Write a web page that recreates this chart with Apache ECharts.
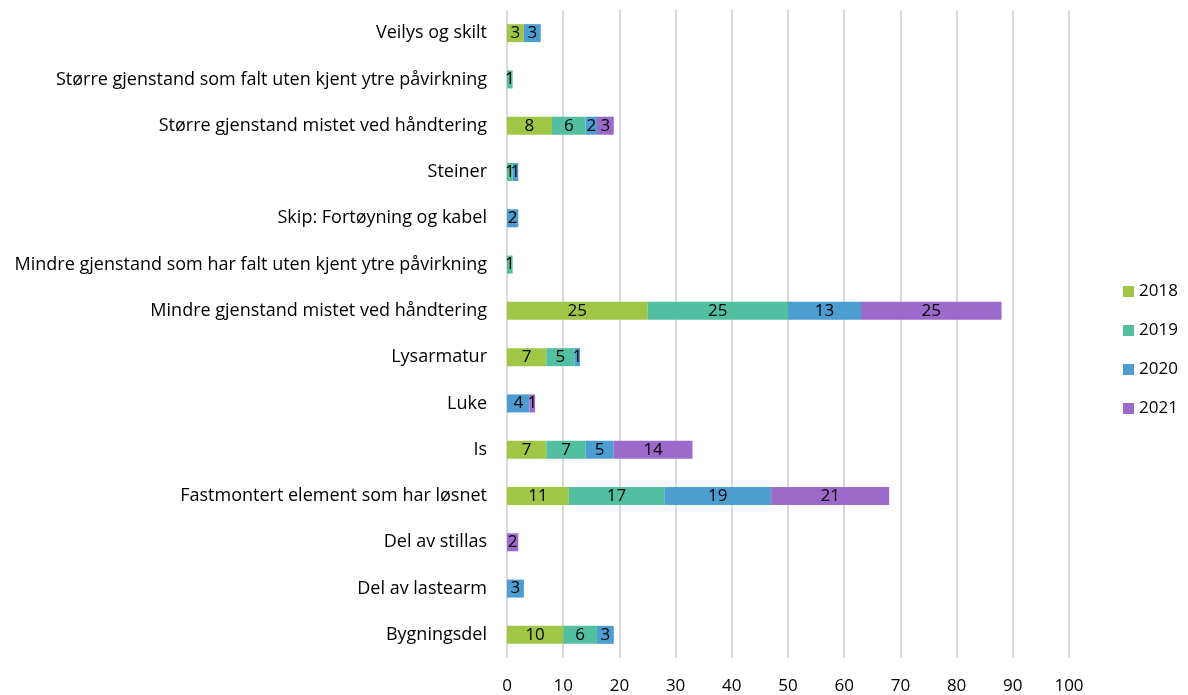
<!DOCTYPE html>
<html>
<head>
<meta charset="utf-8">
<script src="https://cdn.jsdelivr.net/npm/echarts@6/dist/echarts.min.js"></script>
<style>
  html, body { margin: 0; padding: 0; background: #fff; }
  #chart { width: 1188px; height: 695px; }
</style>
</head>
<body>
<div id="chart"></div>
<script>
// kategorier, nederst først (kategoriakse starter nederst)
const categories = [
  'Bygningsdel',
  'Del av lastearm',
  'Del av stillas',
  'Fastmontert element som har løsnet',
  'Is',
  'Luke',
  'Lysarmatur',
  'Mindre gjenstand mistet ved håndtering',
  'Mindre gjenstand som har falt uten kjent ytre påvirkning',
  'Skip: Fortøyning og kabel',
  'Steiner',
  'Større gjenstand mistet ved håndtering',
  'Større gjenstand som falt uten kjent ytre påvirkning',
  'Veilys og skilt'
]
// null = ingen hendelser (ingen etikett)
const v2018 = [10, null, null, 11, 7, null, 7, 25, null, null, null, 8, null, 3]
const v2019 = [6, null, null, 17, 7, null, 5, 25, 1, null, 1, 6, 1, null]
const v2020 = [3, 3, null, 19, 5, 4, 1, 13, null, 2, 1, 2, null, 3]
const v2021 = [null, null, 2, 21, 14, 1, null, 25, null, null, null, 3, null, null]
const years = ['2018', '2019', '2020', '2021']
const xTicks = { min: 0, max: 100, interval: 10 }

const colors = ['#a0c646', '#52bfa0', '#4c9dd0', '#9c6acb']
const font = '"Open Sans", Lato, sans-serif'

let myChart = echarts.init(document.getElementById('chart'))

function makeSeries(name, data) {
  return {
    name: name,
    type: 'bar',
    stack: 'total',
    barWidth: 18,
    data: data,
    label: {
      show: true,
      position: 'inside',
      color: '#000',
      fontSize: 17,
      fontFamily: font
    }
  }
}

let option = {
  animation: false,
  color: colors,
  textStyle: { fontFamily: font },
  grid: {
    left: 507,
    right: 119,
    top: 10,
    bottom: 37
  },
  legend: {
    orient: 'vertical',
    left: 1118,
    top: 278,
    itemWidth: 11,
    itemHeight: 11,
    itemGap: 22,
    icon: 'rect',
    textStyle: { fontSize: 17, color: '#000', fontFamily: font },
    data: years
  },
  xAxis: {
    type: 'value',
    min: xTicks.min,
    max: xTicks.max,
    interval: xTicks.interval,
    axisLine: { show: false },
    axisTick: { show: false },
    axisLabel: { color: '#000', fontSize: 17, margin: 20, fontFamily: font },
    splitLine: { lineStyle: { color: '#d9d9d9', width: 2 } }
  },
  yAxis: {
    type: 'category',
    data: categories,
    axisLine: { show: false },
    axisTick: { show: false },
    axisLabel: { color: '#000', fontSize: 18, margin: 20, fontFamily: font }
  },
  series: [
    makeSeries(years[0], v2018),
    makeSeries(years[1], v2019),
    makeSeries(years[2], v2020),
    makeSeries(years[3], v2021)
  ]
}

myChart.setOption(option)

window.addEventListener('resize', function () {
  myChart.resize()
})
</script>
</body>
</html>
